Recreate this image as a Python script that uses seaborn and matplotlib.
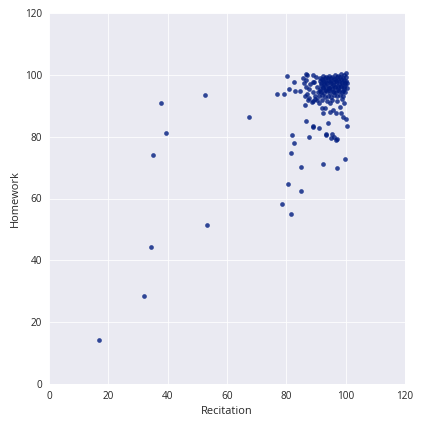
import pandas as pd
import seaborn as sns
import matplotlib.pyplot as plt

# Scores
recitation = [
    17.0, 32.0, 34.3, 35.2, 37.9, 39.3, 52.5, 53.2, 67.5,
    80.7, 85.0, 78.6, 81.7, 82.0, 87.7, 93.4, 95.1, 96.8, 97.0, 82.7, 81.7,
    99.9, 92.5, 85.0, 97.2,
    86.4, 86.7, 89.1, 87.4,
    91.1, 93.0, 94.7, 95.8, 94.7, 96.6, 98.1, 98.3, 99.2, 100.1, 94.1, 89.1,
    91.1, 100.3, 93.4, 95.5, 96.1, 92.5, 91.9, 89.1,
    80.3, 82.6, 85.7, 86.6, 86.8, 88.0, 87.7, 80.8, 77.0, 79.2, 83.0, 84.5,
    86.4, 87.7, 89.1, 89.1, 86.0, 86.6, 87.1, 86.6,
    91.5, 92.5, 93.5, 94.5, 95.5, 96.5, 97.5, 98.5, 99.5, 100.2,
    91.2, 92.3, 93.3, 94.2, 95.2, 96.3, 97.3, 98.3, 99.3, 100.0,
    91.8, 92.8, 93.9, 94.9, 95.8, 96.9, 97.9, 98.9, 99.8,
    90.2, 91.3, 92.4, 93.4, 94.4, 95.4, 96.4, 97.4, 98.4, 99.4, 100.3,
    90.6, 91.7, 92.7, 93.7, 94.7, 95.7, 96.7, 97.7, 98.7, 99.7,
    89.8, 91.0, 92.1, 93.1, 94.1, 95.1, 96.2, 97.2, 98.2, 99.2,
    90.5, 92.0, 93.6, 95.5, 97.0, 98.8, 99.5,
    88.5, 89.6, 88.9, 89.4, 90.0,
    92.0, 93.0, 94.0, 95.0, 96.0, 97.0, 98.0, 99.0, 100.0,
    91.7, 92.8, 93.8, 94.8, 95.9, 96.8, 97.8, 98.8, 99.9,
    92.2, 93.2, 94.3, 95.3, 96.3, 97.3, 98.3, 99.3,
    91.5, 93.0, 94.5, 96.0, 97.5, 99.0, 100.4,
]
homework = [
    14.3, 28.5, 44.2, 74.2, 91.0, 81.3, 93.5, 51.3, 86.4,
    64.6, 62.3, 58.1, 54.9, 80.4, 79.8, 80.5, 79.5, 79.0, 79.3, 77.8, 74.6,
    72.7, 71.0, 70.1, 69.8,
    90.1, 85.0, 83.2, 91.8,
    90.8, 89.2, 90.8, 88.6, 88.1, 87.5, 89.7, 87.5, 86.4, 85.8, 84.5, 83.4,
    82.8, 83.4, 80.9, 81.0, 80.0, 87.5, 89.2, 91.6,
    99.5, 97.6, 98.9, 98.3, 99.9, 96.9, 95.4, 95.4, 93.7, 93.7, 94.9, 94.8,
    93.2, 92.4, 99.9, 97.6, 97.2, 96.2, 93.9, 100.2,
    99.0, 99.5, 99.2, 99.6, 99.4, 99.8, 99.5, 100.2, 99.8, 99.3,
    98.0, 98.3, 97.8, 98.4, 98.0, 98.6, 98.2, 98.8, 98.4, 98.0,
    96.8, 97.0, 96.5, 97.2, 96.8, 97.3, 96.9, 97.4, 96.7,
    96.0, 95.5, 95.8, 95.2, 95.9, 95.4, 96.0, 95.6, 96.1, 95.5, 95.9,
    94.3, 94.6, 94.1, 94.7, 94.2, 94.8, 94.3, 94.9, 94.4, 94.6,
    93.2, 93.0, 93.4, 92.8, 93.3, 92.9, 93.5, 93.0, 93.6, 93.1,
    91.8, 92.0, 91.6, 91.9, 91.5, 92.2, 91.0,
    91.3, 92.3, 94.5, 97.8, 99.3,
    98.7, 98.9, 99.0, 99.1, 98.8, 99.2, 99.4, 99.1, 100.5,
    97.5, 97.7, 97.4, 97.8, 97.6, 98.0, 97.9, 97.8, 97.3,
    96.2, 96.3, 95.8, 96.4, 96.2, 96.5, 96.3, 96.2,
    94.9, 95.0, 95.1, 94.6, 95.2, 94.8, 97.2,
]
ticks = [0, 20, 40, 60, 80, 100, 120]

df = pd.DataFrame({'Recitation': recitation, 'Homework': homework})

sns.set_style('darkgrid')
plt.rcParams['font.family'] = ['Open Sans', 'DejaVu Sans']

fig = plt.figure(figsize=(422 / 72, 424 / 72), dpi=72)
ax = fig.add_axes([49 / 422, 40 / 424, 356 / 422, 371 / 424])
sns.scatterplot(data=df, x='Recitation', y='Homework', color='#001c7f',
                alpha=0.8, s=22, linewidth=0, ax=ax)
ax.set_xlim(0, 120)
ax.set_ylim(0, 120)
ax.set_xticks(ticks)
ax.set_yticks(ticks)
ax.tick_params(labelsize=10, colors='#262626')
ax.set_xlabel('Recitation', fontsize=11, color='#262626')
ax.set_ylabel('Homework', fontsize=11, color='#262626')

fig.savefig('out.png', dpi=72)
